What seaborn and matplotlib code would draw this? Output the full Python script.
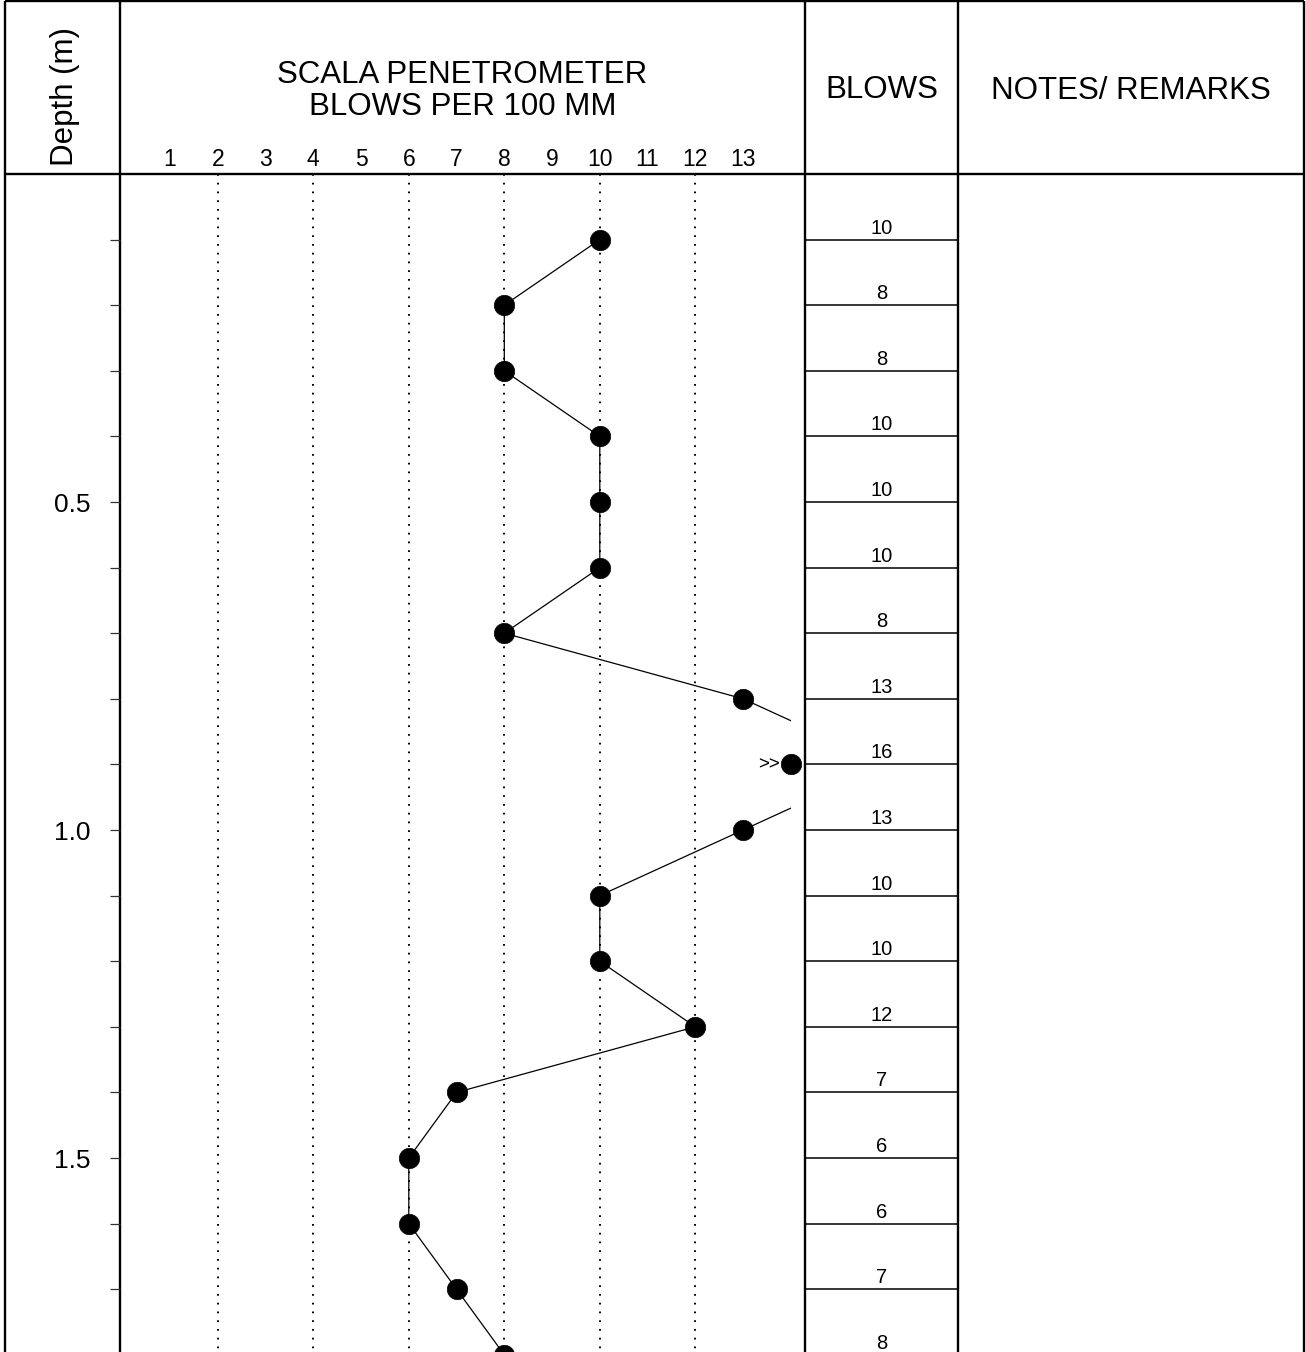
import numpy as np
import pandas as pd
import matplotlib
matplotlib.use("Agg")
import matplotlib.pyplot as plt
from matplotlib.patches import Rectangle
import seaborn as sns

# Scala penetrometer test results (blows per 100 mm) by depth
depth_m = [0.1, 0.2, 0.3, 0.4, 0.5, 0.6, 0.7, 0.8, 0.9,
           1.0, 1.1, 1.2, 1.3, 1.4, 1.5, 1.6, 1.7, 1.8]
blows = [10, 8, 8, 10, 10, 10, 8, 13, 16, 13, 10, 10, 12, 7, 6, 6, 7, 8]

scale_ticks = list(range(1, 14))
grid_values = [2, 4, 6, 8, 10, 12]
depth_labels = [0.5, 1.0, 1.5]
depth_minor = [0.1, 0.2, 0.3, 0.4, 0.6, 0.7, 0.8, 0.9,
               1.1, 1.2, 1.3, 1.4, 1.6, 1.7]
scale_max = 14          # values beyond this are plotted at the edge with ">>"

sns.set_theme(style="white")
plt.rcParams["font.family"] = ["Liberation Sans", "DejaVu Sans"]
plt.rcParams["text.color"] = "black"
plt.rcParams["xtick.labelcolor"] = "black"
plt.rcParams["ytick.labelcolor"] = "black"

W, H = 1306, 1352
fig = plt.figure(figsize=(W / 100, H / 100), dpi=100)

# pixel layout of the log sheet
X_LEFT, X_DEPTH, X_PLOT, X_BLOWS, X_RIGHT = 5, 120, 805, 958, 1304
Y_TOP, Y_HEAD = 1, 174
px_per_m = 656.0
depth_bottom = (H - Y_HEAD) / px_per_m


def fx(px):
    return px / W


def fy(py):
    return 1 - py / H


# background frame
bg = fig.add_axes([0, 0, 1, 1])
bg.set_xlim(0, W)
bg.set_ylim(H, 0)
bg.axis("off")
frame_kw = dict(color="black", lw=1.7, solid_capstyle="butt")
bg.plot([X_LEFT, X_RIGHT], [Y_TOP, Y_TOP], **frame_kw)
bg.plot([X_LEFT, X_RIGHT], [Y_HEAD, Y_HEAD], **frame_kw)
for xv in (X_LEFT, X_DEPTH, X_PLOT, X_BLOWS, X_RIGHT):
    bg.plot([xv, xv], [Y_TOP, H], **frame_kw)

# header texts
head_fs = 22.5
bg.text((X_LEFT + X_DEPTH) / 2 + 2, 97, "Depth (m)", rotation=90,
        ha="center", va="center", fontsize=head_fs)
bg.text((X_DEPTH + X_PLOT) / 2, 91, "SCALA PENETROMETER\nBLOWS PER 100 MM",
        ha="center", va="center", fontsize=head_fs, linespacing=1.1)
bg.text((X_PLOT + X_BLOWS) / 2, 90, "BLOWS", ha="center", va="center",
        fontsize=head_fs)
bg.text((X_BLOWS + X_RIGHT) / 2, 91, "NOTES/ REMARKS", ha="center",
        va="center", fontsize=head_fs)

# main penetrometer plot
ax = fig.add_axes([fx(X_DEPTH), 0, fx(X_PLOT - X_DEPTH), fy(Y_HEAD)])
ax.set_facecolor("none")
x_per_unit = 47.75
x0 = 122.3
ax.set_xlim((X_DEPTH - x0) / x_per_unit, (X_PLOT - x0) / x_per_unit)
ax.set_ylim(depth_bottom, 0)
for s in ax.spines.values():
    s.set_visible(False)

ax.vlines(grid_values, 0, depth_bottom, colors="black",
          linestyles=(0, (0.9, 3.6)), lw=1.4)

df = pd.DataFrame({"depth": depth_m, "blows": blows})
df["plotted"] = df["blows"].clip(upper=scale_max)

sns.lineplot(data=df, x="blows", y="depth", sort=False, estimator=None,
             color="black", lw=0.9, ax=ax)
clip = Rectangle((0, 0), scale_max, depth_bottom, transform=ax.transData)
ax.lines[-1].set_clip_path(clip)

sns.scatterplot(data=df, x="plotted", y="depth", s=215, color="black",
                edgecolor="black", linewidth=0.5, ax=ax, zorder=5)
for _, row in df[df["blows"] > scale_max].iterrows():
    ax.annotate(">>", xy=(row["plotted"], row["depth"]), xytext=(-8, 0),
                textcoords="offset points", ha="right", va="center",
                fontsize=13.5)

ax.xaxis.tick_top()
ax.set_xticks(scale_ticks)
ax.set_xticklabels([str(v) for v in scale_ticks])
ax.tick_params(axis="x", top=True, bottom=False, length=0, pad=2,
               labelsize=16.5)
ax.set_yticks(depth_labels)
ax.set_yticklabels([f"{v:.1f}" for v in depth_labels])
ax.set_yticks(depth_minor, minor=True)
ax.tick_params(axis="y", which="both", left=True, direction="out",
               length=7.2, width=0.9, color="#333333", pad=14, labelsize=19)
ax.set_xlabel("")
ax.set_ylabel("")

# blows column
axb = fig.add_axes([fx(X_PLOT), 0, fx(X_BLOWS - X_PLOT), fy(Y_HEAD)],
                   sharey=ax)
axb.set_facecolor("none")
axb.set_xlim(0, 1)
axb.hlines(depth_m, 0, 1, colors="black", lw=1.1)
for d, b in zip(depth_m, blows):
    axb.annotate(str(b), xy=(0.5, d), xytext=(0, 1.5),
                 textcoords="offset points", ha="center", va="bottom",
                 fontsize=14.5, annotation_clip=False)
axb.set_xticks([])
axb.tick_params(axis="y", which="both", left=False, labelleft=False)
for s in axb.spines.values():
    s.set_visible(False)

fig.savefig("out.png", dpi=100)
